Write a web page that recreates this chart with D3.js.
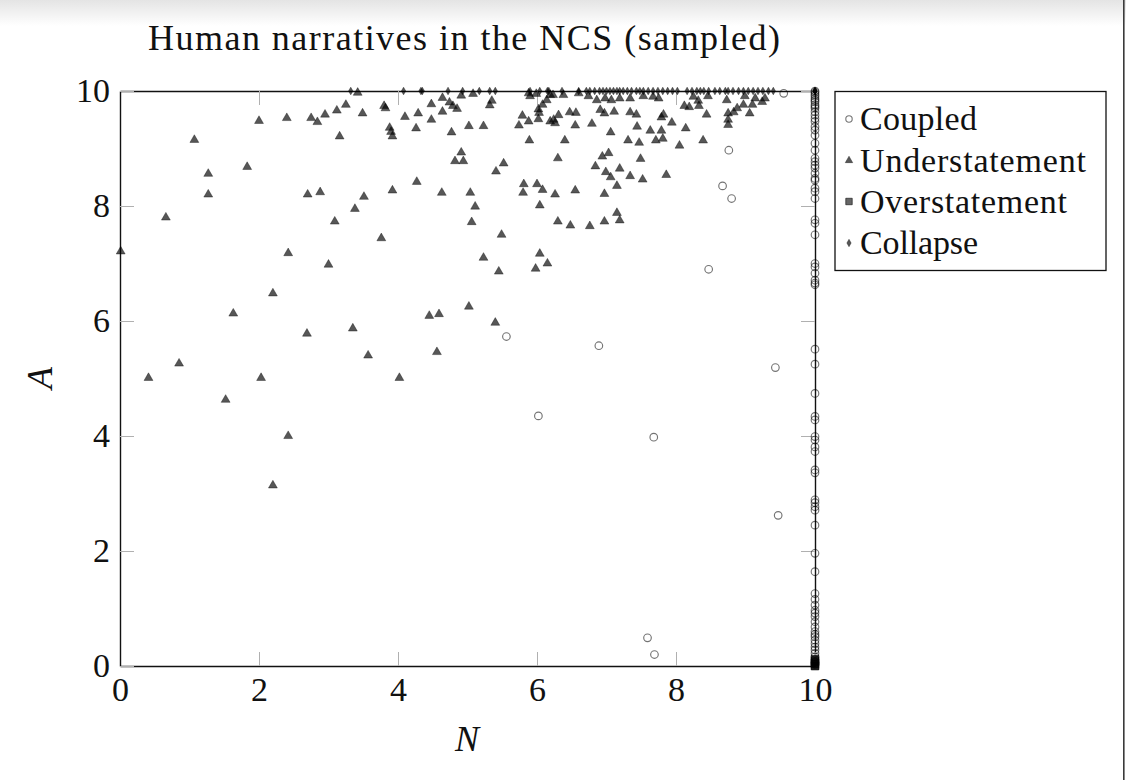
<!DOCTYPE html>
<html>
<head>
<meta charset="utf-8">
<script src="https://cdn.jsdelivr.net/npm/d3@7"></script>
<style>
  html, body { margin: 0; padding: 0; background: #fff; }
  svg { display: block; }
</style>
</head>
<body>
<svg id="chart" width="1126" height="780"></svg>
<script>
// ---------------- DATA ----------------
const titleText = "Human narratives in the NCS (sampled)";
const xLabel = "N";
const yLabel = "A";
const tickValues = [0, 2, 4, 6, 8, 10];
const seriesNames = ["Coupled", "Understatement", "Overstatement", "Collapse"];

// Coupled (open circles), [N, A]
const coupledInner = [
  [5.56,5.73],[6.89,5.57],[9.43,5.19],[6.02,4.35],[7.68,3.98],[8.47,6.90],
  [8.76,8.97],[8.67,8.35],[8.80,8.13],[9.55,9.96],[9.47,2.62],[7.59,0.49],[7.69,0.20]
];
// Coupled narratives sitting at N = 10: their A values
const coupledEdgeA = [
  10.0,9.98,9.94,9.91,9.87,9.84,9.81,9.76,9.73,9.70,9.64,9.58,9.52,9.47,9.38,9.32,9.23,
  9.09,8.97,8.83,8.77,8.71,8.66,8.57,8.48,8.45,8.31,8.25,8.13,7.76,7.70,7.50,7.00,6.94,
  6.83,6.71,6.66,6.63,5.51,5.25,4.74,4.34,4.28,3.99,3.93,3.81,3.73,3.41,3.36,2.89,2.84,
  2.77,2.71,2.45,1.96,1.64,1.26,1.16,1.06,0.97,0.92,0.86,0.77,0.68,0.60,0.55,0.51,0.45,
  0.39,0.33,0.28,0.22,0.16,0.11,0.07,0.03
];

// Understatement (filled triangles), [N, A]
const understatement = [
  [0.01,7.21],[0.41,5.01],[0.66,7.80],[0.85,5.26],[1.07,9.15],[1.27,8.56],[1.27,8.20],[1.52,4.63],
  [1.63,6.13],[1.83,8.68],[2.00,9.48],[2.03,5.01],[2.20,6.48],[2.20,3.14],[2.40,9.53],[2.42,7.18],
  [2.42,4.00],[2.69,5.78],[2.70,8.20],[2.75,9.53],[2.84,9.46],[2.88,8.24],[2.95,9.59],[3.00,6.98],
  [3.09,7.73],[3.12,9.66],[3.16,9.21],[3.25,9.76],[3.35,5.87],[3.38,7.95],[3.42,9.97],[3.49,9.61],
  [3.51,8.16],[3.57,5.40],[3.76,7.44],[3.80,9.74],[3.82,9.70],[3.88,9.36],[3.90,9.29],[3.92,9.21],
  [3.92,8.27],[4.02,5.01],[4.10,9.55],[4.26,9.35],[4.27,8.42],[4.29,9.61],[4.45,6.09],[4.48,9.77],
  [4.48,9.50],[4.56,5.46],[4.59,6.12],[4.63,8.23],[4.64,9.88],[4.64,9.64],[4.74,9.80],[4.77,9.28],
  [4.79,9.74],[4.82,8.78],[4.85,9.69],[4.91,9.92],[4.91,8.93],[4.94,8.78],[5.02,9.39],[5.02,6.25],
  [5.04,8.23],[5.06,7.72],[5.08,9.95],[5.11,7.99],[5.23,9.39],[5.23,7.10],[5.32,9.75],[5.35,9.83],
  [5.40,5.97],[5.41,8.60],[5.45,6.86],[5.49,7.50],[5.52,8.74],[5.74,9.40],[5.79,9.57],[5.80,8.23],
  [5.81,8.38],[5.88,9.47],[5.88,9.96],[5.89,9.14],[5.90,9.91],[5.98,6.91],[5.99,9.95],[6.00,8.38],
  [6.02,9.51],[6.02,9.68],[6.03,9.62],[6.04,8.01],[6.04,7.17],[6.08,9.76],[6.08,8.28],[6.14,9.84],
  [6.15,7.00],[6.19,9.93],[6.19,9.47],[6.23,9.93],[6.24,9.50],[6.26,9.44],[6.26,8.20],[6.30,8.83],
  [6.30,7.73],[6.31,9.58],[6.38,9.93],[6.40,9.14],[6.47,9.63],[6.48,7.66],[6.55,9.40],[6.55,8.27],
  [6.56,9.62],[6.60,9.96],[6.74,9.91],[6.76,7.65],[6.79,9.43],[6.84,8.69],[6.86,9.84],[6.91,9.67],
  [6.94,8.86],[6.97,9.61],[6.97,8.21],[6.97,7.73],[6.98,9.87],[6.99,8.59],[7.03,8.92],[7.06,9.28],
  [7.06,8.50],[7.07,9.84],[7.11,9.64],[7.15,8.35],[7.15,7.88],[7.19,9.87],[7.19,8.65],[7.19,7.75],
  [7.31,9.14],[7.34,9.87],[7.34,9.63],[7.34,8.52],[7.43,9.59],[7.44,9.38],[7.47,9.10],[7.49,8.82],
  [7.52,8.46],[7.53,9.91],[7.63,9.31],[7.67,9.90],[7.71,9.14],[7.75,9.87],[7.79,9.31],[7.79,9.54],
  [7.81,9.17],[7.82,9.59],[7.86,8.54],[7.94,9.45],[8.05,9.05],[8.12,9.74],[8.14,9.35],[8.19,9.72],
  [8.25,9.90],[8.32,9.83],[8.33,9.74],[8.39,9.14],[8.44,9.59],[8.46,9.91],[8.73,9.84],[8.75,9.61],
  [8.75,9.50],[8.75,9.41],[8.83,9.63],[8.88,9.70],[8.97,9.76],[8.99,9.91],[9.06,9.61],[9.10,9.76],
  [9.14,9.87],[9.24,9.81],[9.28,9.87]
];

// Overstatement (filled squares), [N, A]
const overstatement = [[10,0],[10,0],[10,0.03],[10,0.06],[10,0.09],[10,0.12]];

// Collapse (filled diamonds), all at A = 10: their N values
const collapseN = [
  3.32,4.08,4.33,4.35,4.72,4.93,5.17,5.32,5.40,5.90,6.04,6.15,6.17,6.36,6.60,6.71,6.76,6.83,
  6.90,6.95,7.00,7.05,7.10,7.15,7.19,7.24,7.30,7.36,7.43,7.48,7.53,7.60,7.67,7.74,7.81,7.88,
  7.95,8.02,8.16,8.23,8.30,8.35,8.40,8.47,8.56,8.63,8.71,8.75,8.82,8.90,8.97,9.04,9.11,9.18,
  9.25,9.33,9.40,10,10,10
];

// ---------------- DRAW ----------------
const svg = d3.select("#chart");
const FONT = "'Liberation Serif', 'Times New Roman', serif";

// screenshot chrome: top shade + right edge line
const defs = svg.append("defs");
const grad = defs.append("linearGradient").attr("id", "topShade")
  .attr("x1", 0).attr("y1", 0).attr("x2", 0).attr("y2", 1);
grad.append("stop").attr("offset", "0%").attr("stop-color", "#e4e4e4");
grad.append("stop").attr("offset", "100%").attr("stop-color", "#ffffff");
svg.append("rect").attr("x", 0).attr("y", 0).attr("width", 1126).attr("height", 26)
  .attr("fill", "url(#topShade)");
svg.append("rect").attr("x", 1123).attr("y", 0).attr("width", 1.6).attr("height", 780)
  .attr("fill", "#3a3a3a");

const x = d3.scaleLinear().domain([0, 10]).range([120, 815]);
const y = d3.scaleLinear().domain([0, 10]).range([666, 91]);

function styleAxis(g, labels) {
  g.select(".domain").attr("stroke", "#111").attr("stroke-width", 1.4);
  g.selectAll(".tick line").attr("stroke", "#b0b0b0").attr("stroke-width", 1);
  g.selectAll(".tick text").attr("font-family", FONT).attr("font-size", 34).attr("fill", "#111");
  if (!labels) g.selectAll(".tick text").remove();
}

svg.append("g").attr("transform", `translate(0,${y(10)})`)
  .call(d3.axisTop(x).tickValues(tickValues).tickSize(-14).tickSizeOuter(0))
  .call(g => styleAxis(g, false));
svg.append("g").attr("transform", `translate(${x(10)},0)`)
  .call(d3.axisRight(y).tickValues(tickValues).tickSize(-14).tickSizeOuter(0))
  .call(g => styleAxis(g, false));
svg.append("g").attr("transform", `translate(0,${y(0)})`)
  .call(d3.axisBottom(x).tickValues(tickValues).tickSize(-14).tickSizeOuter(0).tickPadding(11))
  .call(g => styleAxis(g, true));
svg.append("g").attr("transform", `translate(${x(0)},0)`)
  .call(d3.axisLeft(y).tickValues(tickValues).tickSize(-14).tickSizeOuter(0).tickPadding(10))
  .call(g => styleAxis(g, true));

// marks
const marks = svg.append("g");

const coupledAll = coupledInner.concat(coupledEdgeA.map(a => [10, a]));
marks.append("g").selectAll("circle").data(coupledAll).join("circle")
  .attr("cx", d => x(d[0])).attr("cy", d => y(d[1])).attr("r", 3.8)
  .attr("fill", "none").attr("stroke", "#000").attr("stroke-opacity", 0.55).attr("stroke-width", 1.15);

const tri = d3.symbol().type(d3.symbolTriangle).size(34);
marks.append("g").selectAll("path").data(understatement).join("path")
  .attr("d", tri).attr("transform", d => `translate(${x(d[0])},${y(d[1])})`)
  .attr("fill", "#000").attr("fill-opacity", 0.66)
  .attr("stroke", "#000").attr("stroke-opacity", 0.6).attr("stroke-width", 0.6);

const sq = d3.symbol().type(d3.symbolSquare).size(56);
marks.append("g").selectAll("path").data(overstatement).join("path")
  .attr("d", sq).attr("transform", d => `translate(${x(d[0])},${y(d[1])})`)
  .attr("fill", "#000").attr("fill-opacity", 0.6)
  .attr("stroke", "#000").attr("stroke-opacity", 0.7).attr("stroke-width", 0.8);

const dia = d3.symbol().type(d3.symbolDiamond).size(17);
marks.append("g").selectAll("path").data(collapseN).join("path")
  .attr("d", dia).attr("transform", d => `translate(${x(d)},${y(10)})`)
  .attr("fill", "#000").attr("fill-opacity", 0.66)
  .attr("stroke", "#000").attr("stroke-opacity", 0.6).attr("stroke-width", 0.6);

// title & axis labels
svg.append("text").attr("x", 464).attr("y", 50).attr("text-anchor", "middle")
  .attr("font-family", FONT).attr("font-size", 36).attr("fill", "#111")
  .attr("textLength", 632).attr("lengthAdjust", "spacing")
  .text(titleText);
svg.append("text").attr("x", 467).attr("y", 751).attr("text-anchor", "middle")
  .attr("font-family", FONT).attr("font-size", 36).attr("font-style", "italic").attr("fill", "#111")
  .text(xLabel);
svg.append("text").attr("transform", "translate(52,378) rotate(-90)").attr("text-anchor", "middle")
  .attr("font-family", FONT).attr("font-size", 36).attr("font-style", "italic").attr("fill", "#111")
  .text(yLabel);

// legend
const legend = svg.append("g");
legend.append("rect").attr("x", 835).attr("y", 91.5).attr("width", 271).attr("height", 179)
  .attr("fill", "#fff").attr("stroke", "#111").attr("stroke-width", 1.3);
const legendRows = [119, 160.5, 201.5, 243];
const legendLen = [117, 226, 207, 118];
seriesNames.forEach((name, i) => {
  const cy = legendRows[i];
  const mx = 849;
  if (i === 0) {
    legend.append("circle").attr("cx", mx).attr("cy", cy).attr("r", 3.2)
      .attr("fill", "none").attr("stroke", "#000").attr("stroke-opacity", 0.55).attr("stroke-width", 1.1);
  } else if (i === 1) {
    legend.append("path").attr("d", d3.symbol().type(d3.symbolTriangle).size(24)())
      .attr("transform", `translate(${mx},${cy})`)
      .attr("fill", "#000").attr("fill-opacity", 0.66).attr("stroke", "#000").attr("stroke-opacity", 0.6).attr("stroke-width", 0.6);
  } else if (i === 2) {
    legend.append("path").attr("d", d3.symbol().type(d3.symbolSquare).size(42)())
      .attr("transform", `translate(${mx},${cy})`)
      .attr("fill", "#000").attr("fill-opacity", 0.6).attr("stroke", "#000").attr("stroke-opacity", 0.7).attr("stroke-width", 0.8);
  } else {
    legend.append("path").attr("d", d3.symbol().type(d3.symbolDiamond).size(16)())
      .attr("transform", `translate(${mx},${cy})`)
      .attr("fill", "#000").attr("fill-opacity", 0.66).attr("stroke", "#000").attr("stroke-opacity", 0.6).attr("stroke-width", 0.6);
  }
  legend.append("text").attr("x", 860).attr("y", cy + 11)
    .attr("font-family", FONT).attr("font-size", 34).attr("fill", "#111")
    .attr("textLength", legendLen[i]).attr("lengthAdjust", "spacing")
    .text(name);
});
</script>
</body>
</html>
